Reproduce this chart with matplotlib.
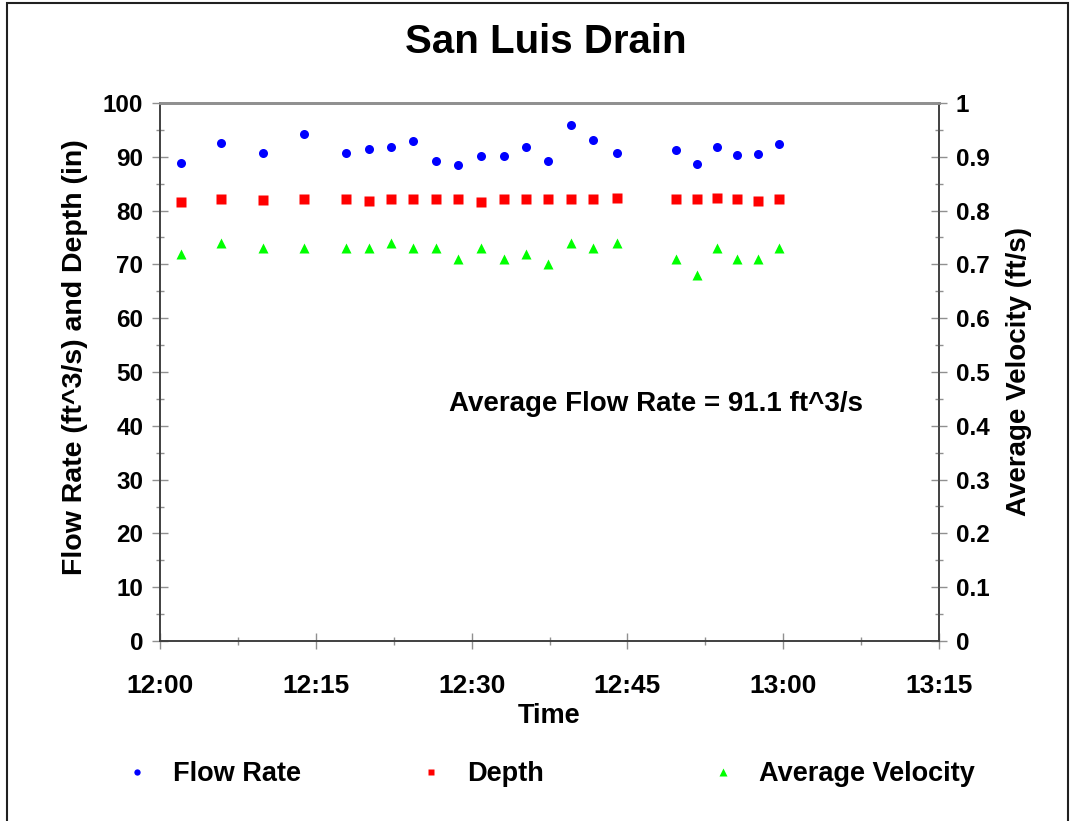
import matplotlib.pyplot as plt
import matplotlib.patches as mpatches
from matplotlib.ticker import MultipleLocator, FuncFormatter

# Data: minutes after 12:00
minutes = [2.0, 5.9, 9.9, 13.9, 17.9, 20.1, 22.2, 24.4, 26.6, 28.7, 30.9,
           33.1, 35.2, 37.4, 39.6, 41.7, 44.0, 49.7, 51.7, 53.6, 55.6, 57.6, 59.6]
flow_rate = [88.9, 92.6, 90.7, 94.3, 90.7, 91.5, 91.9, 93.0, 89.3, 88.5, 90.1,
             90.2, 91.9, 89.3, 95.9, 93.2, 90.7, 91.3, 88.6, 91.9, 90.4, 90.5, 92.3]
depth = [81.6, 82.2, 81.9, 82.2, 82.2, 81.8, 82.2, 82.2, 82.1, 82.1, 81.6,
         82.1, 82.1, 82.2, 82.2, 82.2, 82.4, 82.1, 82.2, 82.3, 82.1, 81.8, 82.2]
velocity = [0.72, 0.74, 0.73, 0.73, 0.73, 0.73, 0.74, 0.73, 0.73, 0.71, 0.73,
            0.71, 0.72, 0.70, 0.74, 0.73, 0.74, 0.71, 0.68, 0.73, 0.71, 0.71, 0.73]
series_names = ["Flow Rate", "Depth", "Average Velocity"]
avg_text = "Average Flow Rate = 91.1 ft^3/s"

plt.rcParams["font.family"] = ["Liberation Sans", "DejaVu Sans"]
plt.rcParams["font.weight"] = "bold"

fig = plt.figure(figsize=(10.73, 8.21), dpi=100)
ax = fig.add_axes([160 / 1073, 1 - 641 / 821, 779 / 1073, 538 / 821])
ax2 = ax.twinx()

# figure frame
fig.patches.append(mpatches.Rectangle((7 / 1073, -0.01), 1061 / 1073, 1.0 - 3 / 821 + 0.01,
                                      transform=fig.transFigure, fill=False,
                                      edgecolor="#202020", lw=1.5))

h1, = ax.plot(minutes, flow_rate, "o", color="#0000ff", ms=6.5, mec="none")
h2, = ax.plot(minutes, depth, "s", color="#ff0000", ms=6.5, mec="none")
h3, = ax2.plot(minutes, velocity, "^", color="#00ff00", ms=7.5, mec="none")

ax.set_xlim(0, 75)
ax.set_ylim(0, 100)
ax2.set_ylim(0, 1)

ax.xaxis.set_major_locator(MultipleLocator(15))
ax.xaxis.set_minor_locator(MultipleLocator(7.5))
ax.xaxis.set_major_formatter(FuncFormatter(
    lambda v, p: f"{12 + int(v) // 60}:{int(v) % 60:02d}"))
ax.yaxis.set_major_locator(MultipleLocator(10))
ax.yaxis.set_minor_locator(MultipleLocator(5))
ax2.yaxis.set_major_locator(MultipleLocator(0.1))
ax2.yaxis.set_minor_locator(MultipleLocator(0.05))
ax2.yaxis.set_major_formatter(FuncFormatter(lambda v, p: f"{v:g}"))

for a in (ax, ax2):
    a.tick_params(which="major", direction="inout", length=12, width=1,
                  color="#909090", labelsize=17.5, pad=6)
    a.tick_params(which="minor", direction="inout", length=6, width=1,
                  color="#909090")
    for side, sp in a.spines.items():
        sp.set_color("#404040")
        sp.set_linewidth(1.2)
    a.spines["top"].set_color("#909090")
    a.spines["top"].set_linewidth(2)
ax.tick_params(axis="x", labelsize=19, pad=18)

ax.set_xlabel("Time", fontsize=19.5, fontweight="bold", labelpad=3)
ax.set_ylabel("Flow Rate (ft^3/s) and Depth (in)", fontsize=20.5,
              fontweight="bold")
ax.yaxis.set_label_coords(-0.092, 0.527)
ax2.set_ylabel("Average Velocity (ft/s)", fontsize=20, fontweight="bold",
               labelpad=12)

fig.text(546 / 1073, 1 - 42 / 821, "San Luis Drain", ha="center", va="center",
         fontsize=29, fontweight="bold")
fig.text(656 / 1073, 1 - 404 / 821, avg_text, ha="center", va="center",
         fontsize=20, fontweight="bold")

# legend entries placed one by one, like the original
for h, name, mx in zip([h1, h2, h3], series_names, [137, 431, 723]):
    leg = fig.legend([h], [name], loc="center left",
                     bbox_to_anchor=((mx - 13.5) / 1073, 1 - 774 / 821),
                     frameon=False, markerscale=0.7, handlelength=1.0,
                     handletextpad=0.83, borderpad=0, borderaxespad=0,
                     prop={"weight": "bold", "size": 19.5})

fig.savefig("out.png", dpi=100)
